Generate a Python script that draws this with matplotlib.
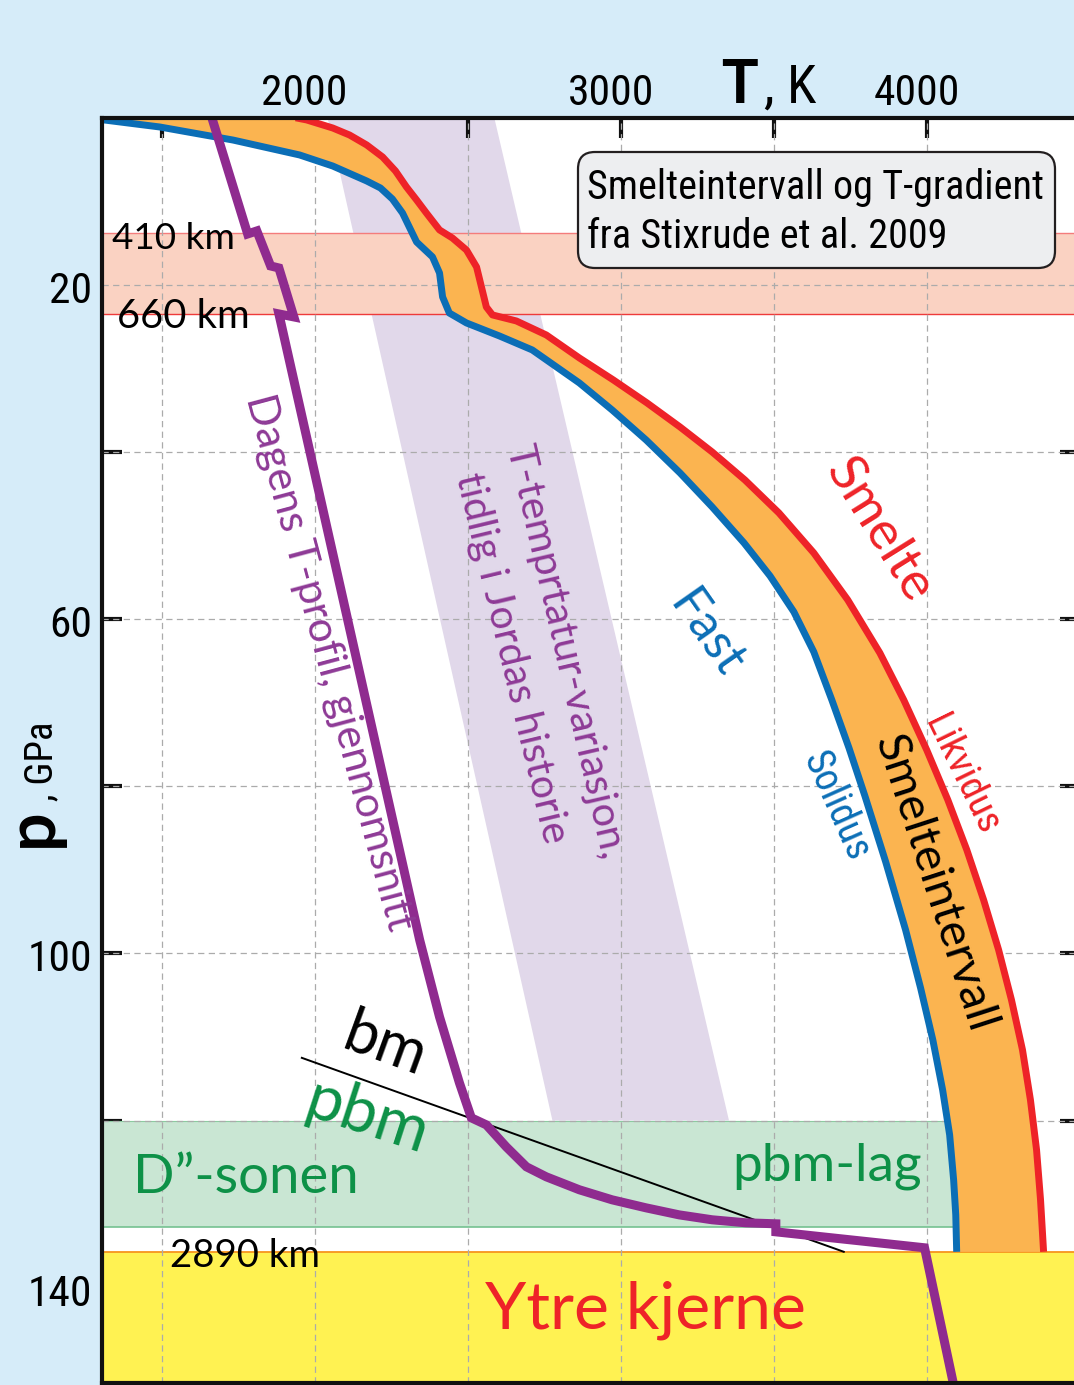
import numpy as np
import matplotlib
matplotlib.use("Agg")
import matplotlib.pyplot as plt
from matplotlib import font_manager as fm
from matplotlib.patches import FancyBboxPatch
from matplotlib.transforms import IdentityTransform, blended_transform_factory, offset_copy

# ---------------- data ----------------
# Liquidus (Stixrude et al. 2009), T in K, p in GPa
liq_T = [1938, 1974, 2059, 2114, 2170, 2222, 2264, 2300, 2333, 2365, 2408, 2450, 2496, 2529, 2545,
         2561, 2581, 2659, 2757, 2865, 2976, 3086, 3194, 3299, 3406, 3517, 3631, 3742, 3847, 3925,
         4000, 4069, 4131, 4186, 4235, 4277, 4313, 4339, 4359, 4372, 4382]
liq_p = [0.0, 0.26, 1.22, 2.06, 3.25, 4.69, 6.36, 8.28, 9.83, 11.39, 13.42, 14.38, 15.82, 17.85, 20.24,
         22.64, 23.59, 24.31, 25.99, 28.74, 31.37, 34.12, 37.00, 39.99, 43.34, 47.28, 52.07, 57.69, 64.04, 69.66,
         75.64, 81.62, 87.60, 93.59, 99.57, 105.55, 111.53, 117.52, 123.50, 129.48, 135.7]
# Solidus
sol_T = [1255, 1312, 1494, 1733, 1951, 2059, 2170, 2215, 2254, 2287, 2333, 2385, 2408, 2418, 2440, 2496,
         2604, 2711, 2865, 2972, 3083, 3194, 3299, 3403, 3488, 3566, 3631, 3690, 3746, 3798, 3866,
         3931, 3980, 4020, 4052, 4075, 4088, 4095, 4098]
sol_p = [0.0, 0.26, 1.10, 2.66, 4.45, 5.77, 7.56, 8.40, 9.72, 11.39, 14.86, 16.65, 18.57, 21.44, 23.36, 24.55,
         26.11, 27.78, 31.73, 34.96, 38.55, 42.50, 46.57, 50.87, 54.82, 59.13, 63.91, 69.66, 75.40, 81.14, 89.04,
         97.18, 104.12, 110.34, 116.32, 121.71, 127.09, 131.28, 135.7]
# Present-day average T profile
prof_T = [1664, 1781, 1811, 1856, 1883, 1932, 1883, 1889, 2343, 2408, 2473, 2512, 2561, 2626, 2692,
          2757, 2865, 2972, 3083, 3191, 3299, 3409, 3507, 3507, 3993, 4088]
prof_p = [0.0, 13.90, 13.54, 17.73, 17.97, 23.83, 23.47, 24.43, 98.37, 107.59, 115.48, 119.67, 120.51,
          123.14, 125.53, 126.73, 128.28, 129.48, 130.44, 131.28, 131.87, 132.23, 132.35, 133.31, 135.22, 151.62]
# Early-Earth temperature variation band (corners)
band_T = [2042, 2587, 3354, 2777]
band_p = [0.0, 0.0, 120.0, 120.0]
# bm line
bm_T = [1958, 3729]
bm_p = [112.49, 135.7]
# layers (GPa)
tz_p = [13.8, 23.5]        # 410 km - 660 km
dpp_p = [120.0, 132.7]     # D'' layer
cmb_p = 135.7              # 2890 km, outer core top
# axes
xticks = [1500, 2000, 2500, 3000, 3500, 4000, 4500]
xtick_labels = [2000, 3000, 4000]
yticks = [20, 40, 60, 80, 100, 120, 140]
ytick_labels = [20, 60, 100, 140]
grid_y = [20, 40, 60, 80, 100, 120]

# ---------------- fonts ----------------
def pick(fams):
    for f in fams:
        try:
            fm.findfont(fm.FontProperties(family=f), fallback_to_default=False)
            return f
        except Exception:
            pass
    return "DejaVu Sans"

COND = pick(["Liberation Sans Narrow", "DejaVu Sans Condensed", "Roboto Condensed",
             "Open Sans Condensed", "Roboto"])
LAB = pick(["Lato", "Open Sans", "Noto Sans", "DejaVu Sans"])

RED = "#EE2328"
BLUE = "#0B6EB6"
ORANGE = "#FBB450"
PURPLE = "#8F2B8F"
PURPLE_T = "#8E3A96"
GREEN = "#0D9147"
BG = "#D6ECF9"

W, H = 1074, 1385
fig = plt.figure(figsize=(W / 100, H / 100), dpi=100, facecolor=BG)
R = fig.canvas.get_renderer()

def fx(x):
    return x / W

def fy(y):
    return 1 - y / H

ax = fig.add_axes([102 / W, 2 / H, (1079.7 - 102) / W, (1383 - 117.8) / H])
ax.set_xlim(1305, 4495)
ax.set_ylim(151.4, 0)
ax.set_facecolor("white")
xmin = ax.get_xlim()[0]

# spines / ticks
for s in ax.spines.values():
    s.set_linewidth(3)
    s.set_color("#111111")
    s.set_zorder(8)
ax.set_xticks(xticks)
ax.set_yticks(yticks)
ax.tick_params(which="both", direction="in", length=14.5, width=3, color="#111111",
               top=True, bottom=True, left=True, right=True,
               labeltop=False, labelbottom=False, labelleft=False, labelright=False)

# grid
for v in xticks:
    ax.axvline(v, color="#ABABAB", lw=0.9, ls=(0, (5, 3.5)), zorder=3)
for v in grid_y:
    ax.axhline(v, color="#ABABAB", lw=0.9, ls=(0, (5, 3.5)), zorder=3)

# bands
ax.fill(band_T, band_p, color="#E1D8EA", lw=0, zorder=1)
ax.axhspan(tz_p[0], tz_p[1], color="#FAD2C2", lw=0, zorder=2)
ax.axhline(tz_p[0], color="#F47C7C", lw=1.0, zorder=2.1)
ax.axhline(tz_p[1], color="#EE3A3A", lw=1.0, zorder=2.1)

pp = np.linspace(dpp_p[0], dpp_p[1], 40)
ax.fill_betweenx(pp, xmin - 50, np.interp(pp, sol_p, sol_T), color="#C9E6D3", lw=0, zorder=2)
ax.hlines(dpp_p[1], xmin - 50, np.interp(dpp_p[1], sol_p, sol_T), color="#6DBE8B", lw=1.1, zorder=2.1)
ax.hlines(dpp_p[0], xmin - 50, np.interp(dpp_p[0], sol_p, sol_T), color="#8CCBA0", lw=0.8, zorder=2.1)

ax.axhspan(cmb_p, 200, color="#FFF252", lw=0, zorder=2)
ax.axhline(cmb_p, color="#F7941D", lw=1.3, zorder=2.2)

# melting interval
ax.fill(np.r_[liq_T, sol_T[::-1]], np.r_[liq_p, sol_p[::-1]], color=ORANGE, lw=0, zorder=4)
ax.plot(liq_T, liq_p, color=RED, lw=5.0, zorder=5, solid_capstyle="butt", solid_joinstyle="round")
ax.plot(sol_T, sol_p, color=BLUE, lw=5.0, zorder=5, solid_capstyle="butt", solid_joinstyle="round")

# bm line and T profile
ax.plot(bm_T, bm_p, color="black", lw=1.4, zorder=5.5)
ax.plot(prof_T, prof_p, color=PURPLE, lw=6.5, zorder=6, solid_joinstyle="miter", solid_capstyle="butt")

# ---------------- tick labels ----------------
tst = fig.text(0, 0, "2000", fontfamily=COND, fontsize=30)
w0 = tst.get_window_extent(renderer=R).width
tick_fs = min(36, 30 * 86 / w0)
tst.remove()

top_tr = offset_copy(blended_transform_factory(ax.transData, ax.transAxes), fig=fig, x=-10, y=12.8, units="dots")
for v in xtick_labels:
    ax.text(v, 1.0, str(v), transform=top_tr, ha="center", va="baseline",
            fontfamily=COND, fontsize=tick_fs, clip_on=False)
left_tr = offset_copy(blended_transform_factory(ax.transAxes, ax.transData), fig=fig, x=-10, y=-2, units="dots")
for v in ytick_labels:
    ax.text(0, v, str(v), transform=left_tr, ha="right", va="center_baseline",
            fontfamily=COND, fontsize=tick_fs, clip_on=False)

# ---------------- text helpers ----------------
def fit(t, L):
    rot = t.get_rotation()
    t.set_rotation(0)
    w = t.get_window_extent(renderer=R).width
    t.set_fontsize(t.get_fontsize() * L / w)
    t.set_rotation(rot)
    return t

def label(x, y, s, L, rot=0, color="black", family=None, ha="center", va="center", weight="normal"):
    t = fig.text(fx(x), fy(y), s, rotation=rot, rotation_mode="anchor", ha=ha, va=va,
                 color=color, fontfamily=family or LAB, fontweight=weight, fontsize=20, zorder=20)
    return fit(t, L)

# axis titles
fig.text(fx(721), fy(103), "T", fontfamily=LAB, fontweight="bold", fontsize=44,
         ha="left", va="baseline", zorder=20)
label(764, 103, ", K", 52, family=COND, ha="left", va="baseline")
fig.text(fx(52), fy(847), "p", fontfamily=LAB, fontweight="bold", fontsize=49, rotation=90,
         rotation_mode="anchor", ha="left", va="baseline", zorder=20)
fig.text(fx(52), fy(801), ", GPa", fontfamily=COND, fontsize=28, rotation=90,
         rotation_mode="anchor", ha="left", va="baseline", zorder=20)

# info box
box = FancyBboxPatch((578, H - 268), 477, 116, boxstyle="round,pad=0,rounding_size=17",
                     transform=IdentityTransform(), fc="#EDEEF0", ec="#231F20", lw=1.6, zorder=10)
fig.add_artist(box)
t1 = label(587, 199, "Smelteintervall og T-gradient", 455, family=COND, ha="left", va="baseline")
fig.text(fx(587), fy(248), "fra Stixrude et al. 2009", fontfamily=COND, fontsize=t1.get_fontsize(),
         ha="left", va="baseline", zorder=20)

# layer labels
label(112, 249, "410 km", 123, ha="left", va="baseline")
label(117, 328, "660 km", 133, ha="left", va="baseline")
label(170, 1267, "2890 km", 150, ha="left", va="baseline")
label(133, 1193, "D\u201d-sonen", 226, color=GREEN, ha="left", va="baseline")
label(732, 1181, "pbm-lag", 190, color=GREEN, ha="left", va="baseline")
label(485, 1329, "Ytre kjerne", 324, color=RED, ha="left", va="baseline")
label(385, 1046, "bm", 84, rot=-20)
label(367, 1117, "pbm", 126, rot=-18, color=GREEN)

# curve labels
label(879, 530, "Smelte", 160, rot=-58, color=RED)
label(706, 634, "Fast", 93, rot=-55, color=BLUE)
label(961, 775, "Likvidus", 128, rot=-64, color=RED, family=COND)
label(836, 806, "Solidus", 115, rot=-66, color=BLUE, family=COND)
label(935, 883, "Smelteintervall", 310, rot=-72)
label(329, 662, "Dagens T-profil, gjennomsnitt", 556, rot=-75, color=PURPLE_T)
label(565, 652, "T-temprtatur-variasjon,", 425, rot=-77, color=PURPLE_T)
label(511, 658, "tidlig i Jordas historie", 381, rot=-76.5, color=PURPLE_T)

fig.savefig("out.png", dpi=100, facecolor=BG)
